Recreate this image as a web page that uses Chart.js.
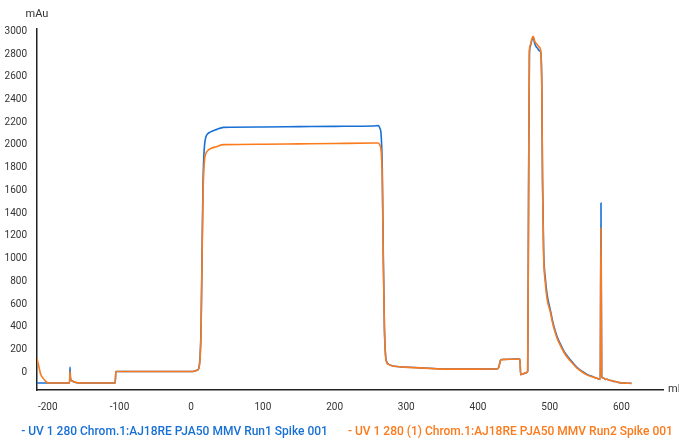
<!DOCTYPE html>
<html>
<head>
<meta charset="utf-8">
<script src="https://cdn.jsdelivr.net/npm/chart.js@4/dist/chart.umd.min.js"></script>
<style>
    body { margin: 0; background: #fff; overflow: hidden; }
    #wrap { position: relative; width: 679px; height: 448px; }
</style>
</head>
<body>
<div id="wrap"><canvas id="myChart"></canvas></div>
<script>
// data
const seriesNames = [
    '- UV 1 280 Chrom.1:AJ18RE PJA50 MMV Run1 Spike 001',
    '- UV 1 280 (1) Chrom.1:AJ18RE PJA50 MMV Run2 Spike 001'
];

const volume = [
    -215, -212, -210, -206, -203, -199, -185, -170, -169.6, -169, -168.3, -166, -162, -156, -140,
    -106, -105, -50, 0, 4, 8, 10.5, 12.5, 13.8, 15.3, 16.5, 17.5, 18.8, 20.5, 23, 27, 35, 45,
    100, 150, 200, 255, 261, 263, 265, 266.5, 268, 269.5, 271, 273, 276, 280, 290, 296, 320,
    352, 400, 426, 429, 431, 433, 445, 458.5, 459.5, 463, 467, 469.3, 470.5, 471.7, 473, 475,
    477, 479, 481, 483, 485.5, 487.5, 489, 490, 491.5, 494, 496.5, 500.5, 505, 510, 515, 520,
    525, 531, 538, 545, 552, 560, 566, 570.5, 571.5, 572.5, 575, 578, 580, 583, 586, 589, 593,
    597, 601, 608, 614
];

const run1 = [
    -94, -94, -94, -94, -94, -94, -94, -94, -94, 46, -50, -75, -86, -92, -94,
    -94, 8, 8, 8, 10, 18, 35, 150, 400, 1100, 1650, 1880, 2010, 2070, 2098, 2115, 2135, 2155,
    2158, 2161, 2164, 2167, 2170, 2150, 2080, 1800, 1000, 400, 160, 90, 70, 58, 50, 47, 40,
    30, 29, 30, 45, 100, 113, 116, 117, -20, -12, -4, 10, 1500, 2800, 2870, 2920,
    2950, 2895, 2865, 2850, 2830, 2815, 2500, 1700, 1080, 820, 680, 560, 425, 320, 248, 185,
    140, 95, 45, 10, -18, -38, -52, -62, 1490, -40, -50, -62, -60, -70, -72, -79, -82,
    -90, -94, -95, -97
];

const run2 = [
    122, 40, -14, -55, -78, -94, -94, -94, -94, 10, -55, -75, -86, -92, -94,
    -94, 8, 8, 8, 10, 18, 32, 130, 360, 1050, 1560, 1760, 1880, 1925, 1950, 1968, 1985, 2003,
    2007, 2010, 2013, 2017, 2018, 2000, 1940, 1700, 950, 380, 150, 85, 68, 58, 50, 46, 40,
    29, 29, 30, 45, 98, 112, 115, 117, -20, -12, -4, 10, 1500, 2830, 2880, 2930,
    2955, 2915, 2895, 2880, 2860, 2830, 2500, 1650, 1040, 780, 640, 540, 410, 305, 235, 175,
    128, 85, 38, 5, -22, -40, -52, -62, 1270, -40, -50, -62, -60, -70, -72, -79, -82,
    -90, -94, -95, -97
];

const xTicks = [-200, -100, 0, 100, 200, 300, 400, 500, 600];
const yTicks = [0, 200, 400, 600, 800, 1000, 1200, 1400, 1600, 1800, 2000, 2200, 2400, 2600, 2800, 3000];

const BLUE = '#1870d5';
const ORANGE = '#fb7a1c';

function toPoints(xs, ys) {
    return xs.map((x, i) => ({ x: x, y: ys[i] }));
}

// axis unit labels
const unitLabels = {
    id: 'unitLabels',
    afterDraw(chart) {
        const ctx = chart.ctx;
        const area = chart.chartArea;
        ctx.save();
        ctx.fillStyle = '#333';
        ctx.font = '11px Roboto';
        ctx.textBaseline = 'middle';
        ctx.textAlign = 'center';
        ctx.fillText('mAu', area.left, 14);
        ctx.textAlign = 'left';
        ctx.fillText('ml', area.right + 5, area.bottom - 1);
        ctx.restore();
    }
};

const ctx = document.getElementById('myChart');
const myChart = new Chart(ctx, {
    type: 'line',
    data: {
        datasets: [{
            label: seriesNames[0],
            data: toPoints(volume, run1),
            borderColor: BLUE,
            borderWidth: 1.6,
            pointRadius: 0,
            cubicInterpolationMode: 'monotone',
            order: 1
        }, {
            label: seriesNames[1],
            data: toPoints(volume, run2),
            borderColor: ORANGE,
            borderWidth: 1.6,
            pointRadius: 0,
            cubicInterpolationMode: 'monotone',
            order: 0
        }]
    },
    options: {
        responsive: true,
        maintainAspectRatio: false,
        animation: false,
        layout: {
            padding: { top: 29, right: 0, left: 0, bottom: 0 }
        },
        scales: {
            x: {
                type: 'linear',
                min: -215,
                max: 658,
                grid: { display: false, drawTicks: false },
                border: { display: true, color: '#222', width: 1.5 },
                ticks: {
                    padding: 11,
                    color: '#333',
                    font: { family: 'Roboto', size: 10 },
                    maxRotation: 0,
                    callback: v => String(v)
                },
                afterBuildTicks(scale) {
                    scale.ticks = xTicks.map(v => ({ value: v }));
                },
                afterFit(scale) {
                    scale.height = 31;
                }
            },
            y: {
                min: -155,
                max: 3020,
                grid: { display: false, drawTicks: false },
                border: { display: true, color: '#222', width: 1.5 },
                ticks: {
                    padding: 10,
                    color: '#333',
                    font: { family: 'Roboto', size: 10 },
                    callback: v => String(v)
                },
                afterBuildTicks(scale) {
                    scale.ticks = yTicks.map(v => ({ value: v }));
                },
                afterFit(scale) {
                    scale.width = 37;
                }
            },
            // empty right axis, only keeps room for the "ml" label
            yRight: {
                position: 'right',
                grid: { display: false, drawTicks: false },
                border: { display: false },
                ticks: { display: false },
                afterFit(scale) {
                    scale.width = 16;
                }
            }
        },
        plugins: {
            legend: {
                position: 'bottom',
                labels: {
                    boxWidth: 9,
                    boxHeight: 10,
                    padding: 5,
                    font: { family: 'Roboto', size: 12, weight: '500' },
                    generateLabels(chart) {
                        return chart.data.datasets.map((ds, i) => ({
                            text: ds.label,
                            fillStyle: 'rgba(0,0,0,0)',
                            strokeStyle: 'rgba(0,0,0,0)',
                            lineWidth: 0,
                            fontColor: ds.borderColor,
                            hidden: false,
                            datasetIndex: i
                        }));
                    }
                }
            },
            tooltip: { enabled: false }
        }
    },
    plugins: [unitLabels]
});
</script>
</body>
</html>
